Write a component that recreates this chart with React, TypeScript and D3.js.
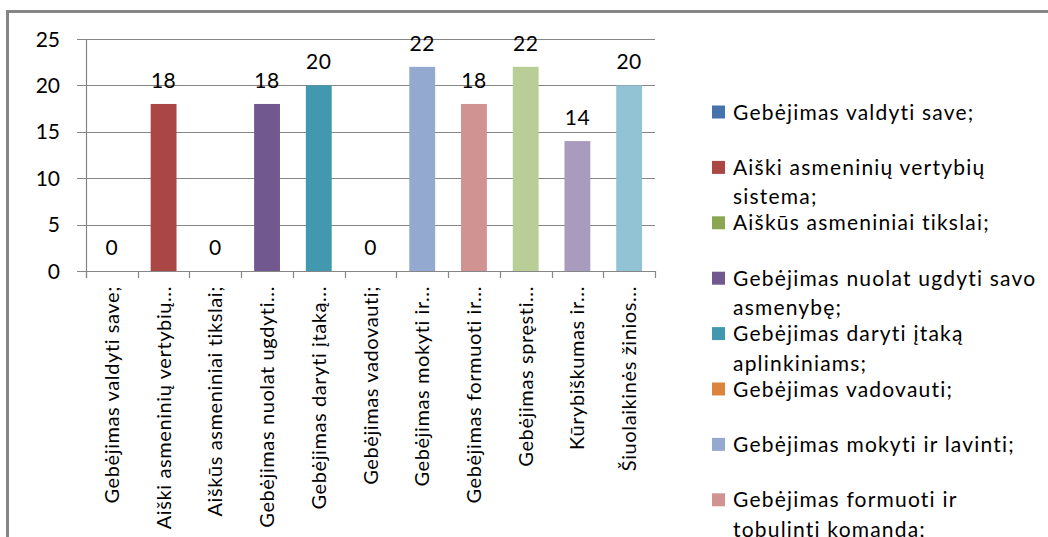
import React from "react";
import * as d3 from "d3";

// Category axis labels (as truncated on the axis)
const tickLabels: string[] = [
  "Gebėjimas valdyti save;",
  "Aiški asmeninių  vertybių...",
  "Aiškūs asmeniniai  tikslai;",
  "Gebėjimas nuolat ugdyti...",
  "Gebėjimas daryti įtaką...",
  "Gebėjimas vadovauti;",
  "Gebėjimas mokyti ir...",
  "Gebėjimas formuoti ir...",
  "Gebėjimas spręsti...",
  "Kūrybiškumas ir...",
  "Šiuolaikinės žinios...",
];

// Legend entries, with their line breaks
const legendLabels: string[][] = [
  ["Gebėjimas valdyti save;"],
  ["Aiški asmeninių vertybių", "sistema;"],
  ["Aiškūs asmeniniai tikslai;"],
  ["Gebėjimas nuolat ugdyti savo", "asmenybę;"],
  ["Gebėjimas daryti įtaką", "aplinkiniams;"],
  ["Gebėjimas vadovauti;"],
  ["Gebėjimas mokyti ir lavinti;"],
  ["Gebėjimas formuoti ir", "tobulinti komandą;"],
  ["Gebėjimas spręsti", "problemas;"],
  ["Kūrybiškumas ir", "iniciatyvumas;"],
  ["Šiuolaikinės žinios ir", "technologijos;"],
];

const values: number[] = [0, 18, 0, 18, 20, 0, 22, 18, 22, 14, 20];

const colors: string[] = [
  "#4673AE",
  "#AA4643",
  "#8AA652",
  "#71588F",
  "#4198AF",
  "#DB843D",
  "#93A9CF",
  "#D19392",
  "#B9CD96",
  "#A99BBD",
  "#92C3D4",
];

const yTicks: number[] = [0, 5, 10, 15, 20, 25];

const W = 1048;
const H = 537;
const FONT = "Lato, 'Open Sans', sans-serif";

export default function App() {
  const plot = { left: 86, right: 655, top: 39, bottom: 271 };

  const x = d3
    .scaleBand<number>()
    .domain(d3.range(values.length))
    .range([plot.left, plot.right])
    .paddingInner(0.5)
    .paddingOuter(0.25);

  const y = d3.scaleLinear().domain([0, 25]).range([plot.bottom, plot.top]);

  const step = x.step();
  const boundaries = d3.range(values.length + 1).map((i) => plot.left + i * step);

  const axisColor = "#868686";

  return (
    <svg
      width={W}
      height={H}
      style={{ position: "absolute", left: 0, top: 0, background: "#fff" }}
      fontFamily={FONT}
    >
      {/* outer frame */}
      <line x1={6} x2={W} y1={11.5} y2={11.5} stroke={axisColor} strokeWidth={3} />
      <line x1={7.5} x2={7.5} y1={10} y2={H} stroke={axisColor} strokeWidth={3} />

      {/* gridlines and y ticks */}
      {yTicks.map((t) => (
        <g key={t}>
          <line
            x1={77}
            x2={plot.right}
            y1={Math.round(y(t)) + 0.5}
            y2={Math.round(y(t)) + 0.5}
            stroke={axisColor}
            strokeWidth={1.2}
          />
          <text
            x={60}
            y={y(t)}
            dy="0.36em"
            textAnchor="end"
            fontSize={21}
            fill="#000"
          >
            {t}
          </text>
        </g>
      ))}

      {/* y axis line */}
      <line
        x1={plot.left + 0.5}
        x2={plot.left + 0.5}
        y1={plot.top}
        y2={plot.bottom + 7}
        stroke={axisColor}
        strokeWidth={1.2}
      />

      {/* x axis ticks */}
      {boundaries.map((bx, i) => (
        <line
          key={i}
          x1={Math.round(bx) + 0.5}
          x2={Math.round(bx) + 0.5}
          y1={plot.bottom}
          y2={plot.bottom + 7}
          stroke={axisColor}
          strokeWidth={1.2}
        />
      ))}

      {/* bars */}
      {values.map((v, i) => (
        <rect
          key={i}
          x={x(i)}
          y={y(v)}
          width={x.bandwidth()}
          height={plot.bottom - y(v)}
          fill={colors[i]}
        />
      ))}

      {/* value labels */}
      {values.map((v, i) => (
        <text
          key={i}
          x={(x(i) as number) + x.bandwidth() / 2}
          y={y(v) - 16}
          textAnchor="middle"
          fontSize={21}
          letterSpacing={0.5}
          fill="#000"
        >
          {v}
        </text>
      ))}

      {/* category labels */}
      {tickLabels.map((label, i) => {
        const cx = (x(i) as number) + x.bandwidth() / 2;
        const cy = 286;
        return (
          <text
            key={i}
            transform={`translate(${cx},${cy}) rotate(-90)`}
            textAnchor="end"
            dy="0.35em"
            fontSize={20}
            letterSpacing={0.6}
            fill="#000"
          >
            {label}
          </text>
        );
      })}

      {/* legend */}
      {legendLabels.map((lines, i) => {
        const cy = 112 + i * 55.4;
        return (
          <g key={i}>
            <rect x={712} y={cy - 6.5} width={13} height={13} fill={colors[i]} />
            {lines.map((ln, j) => (
              <text
                key={j}
                x={733}
                y={cy + j * 29.5}
                dy="0.36em"
                fontSize={21}
                letterSpacing={1.2}
                fill="#000"
              >
                {ln}
              </text>
            ))}
          </g>
        );
      })}
    </svg>
  );
}
